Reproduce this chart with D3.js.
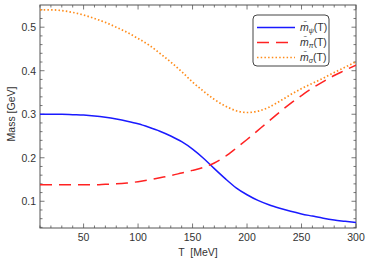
<!DOCTYPE html>
<html><head><meta charset="utf-8">
<script src="https://cdn.jsdelivr.net/npm/d3@7"></script>
<style>body{margin:0;background:#fff}svg{display:block}</style>
</head><body><svg id="c" width="374" height="263"></svg>
<script>
const temps = [10,20,30,40,50,60,70,80,90,100,110,120,130,140,150,160,170,180,190,200,210,220,230,240,250,260,270,280,290,300];
const mPsi = [0.300,0.300,0.300,0.299,0.298,0.296,0.293,0.289,0.284,0.278,0.270,0.261,0.250,0.237,0.220,0.199,0.175,0.152,0.131,0.115,0.102,0.092,0.084,0.077,0.071,0.066,0.061,0.057,0.054,0.051];
const mPi = [0.138,0.138,0.138,0.138,0.138,0.138,0.139,0.140,0.142,0.145,0.149,0.154,0.159,0.165,0.171,0.178,0.188,0.203,0.222,0.242,0.263,0.284,0.305,0.325,0.343,0.360,0.375,0.389,0.401,0.413];
const mSigma = [0.540,0.540,0.538,0.534,0.528,0.520,0.511,0.500,0.488,0.474,0.459,0.440,0.420,0.398,0.374,0.353,0.334,0.319,0.308,0.304,0.307,0.316,0.330,0.345,0.359,0.371,0.383,0.396,0.408,0.421];
const xTicks = [50,100,150,200,250,300];
const yTicks = [0.1,0.2,0.3,0.4,0.5];
const seriesNames = ["ψ","π","σ"];

const svg = d3.select("#c");
const L=40,R=356,T=5,B=228;
const x = d3.scaleLinear().domain([10,300]).range([L,R]);
const y = d3.scaleLinear().domain([0.0386,0.551]).range([B,T]);
const axisColor="#555", font="'Liberation Sans', Arial, sans-serif";

svg.append("rect").attr("x",L).attr("y",T).attr("width",R-L).attr("height",B-T)
  .attr("fill","none").attr("stroke",axisColor).attr("stroke-width",1);

const xMinor = d3.range(10,301,10);
const yMinor = d3.range(0.04,0.551,0.02);
const isMajX = v=>xTicks.some(t=>Math.abs(t-v)<1e-6);
const isMajY = v=>yTicks.some(t=>Math.abs(t-v)<1e-6);
const tk = svg.append("g").attr("stroke",axisColor).attr("stroke-width",0.8);
xMinor.forEach(v=>{
  const len=isMajX(v)?4.5:2.5, px=x(v);
  tk.append("line").attr("x1",px).attr("x2",px).attr("y1",B).attr("y2",B-len);
  tk.append("line").attr("x1",px).attr("x2",px).attr("y1",T).attr("y2",T+len);
});
yMinor.forEach(v=>{
  const len=isMajY(+v.toFixed(2))?4.5:2.5, py=y(v);
  tk.append("line").attr("x1",L).attr("x2",L+len).attr("y1",py).attr("y2",py);
  tk.append("line").attr("x1",R).attr("x2",R-len).attr("y1",py).attr("y2",py);
});
svg.append("g").selectAll("text").data(xTicks).join("text")
  .attr("x",d=>x(d)).attr("y",B+13).attr("text-anchor","middle")
  .attr("font-family",font).attr("font-size",10.5).attr("fill","#333").text(d=>d);
svg.append("g").selectAll("text").data(yTicks).join("text")
  .attr("x",L-4).attr("y",d=>y(d)+3.8).attr("text-anchor","end")
  .attr("font-family",font).attr("font-size",10.5).attr("fill","#333").text(d=>d.toFixed(1));
svg.append("text").attr("x",198).attr("y",256).attr("text-anchor","middle")
  .attr("font-family",font).attr("font-size",10.5).attr("fill","#333").attr("xml:space","preserve").text("T  [MeV]");
svg.append("text").attr("transform","translate(15,114) rotate(-90)").attr("text-anchor","middle")
  .attr("font-family",font).attr("font-size",10.5).attr("fill","#333").text("Mass [GeV]");

const line = d3.line().curve(d3.curveMonotoneX);
const styles = [
  {data:mPsi,color:"#1a1aff",dash:null,w:1.5},
  {data:mPi,color:"#ff2222",dash:"12,7",w:1.5},
  {data:mSigma,color:"#ff8c1a",dash:"1.5,2.2",w:1.7}
];
svg.append("clipPath").attr("id","cl").append("rect").attr("x",L).attr("y",T).attr("width",R-L).attr("height",B-T);
styles.forEach(s=>{
  svg.append("path").attr("clip-path","url(#cl)")
    .attr("d",line(temps.map((t,i)=>[x(t),y(s.data[i])])))
    .attr("fill","none").attr("stroke",s.color).attr("stroke-width",s.w)
    .attr("stroke-dasharray",s.dash);
});

const lg = svg.append("g");
lg.append("rect").attr("x",253).attr("y",15).attr("width",76).attr("height",51).attr("rx",4)
  .attr("fill","#fff").attr("stroke","#444").attr("stroke-width",1);
styles.forEach((s,i)=>{
  const yy = 27.5+i*15;
  lg.append("line").attr("x1",257).attr("x2",295).attr("y1",yy).attr("y2",yy)
    .attr("stroke",s.color).attr("stroke-width",s.w).attr("stroke-dasharray",s.dash);
  const t = lg.append("text").attr("x",300).attr("y",yy+3.5)
    .attr("font-family",font).attr("font-size",10.5).attr("fill","#333");
  t.append("tspan").attr("font-style","italic").text("m\u0304");
  t.append("tspan").attr("font-size",7).attr("font-style","italic").attr("dy",2).text(seriesNames[i]);
  t.append("tspan").attr("dy",-2).text("(T)");
});
</script></body></html>
